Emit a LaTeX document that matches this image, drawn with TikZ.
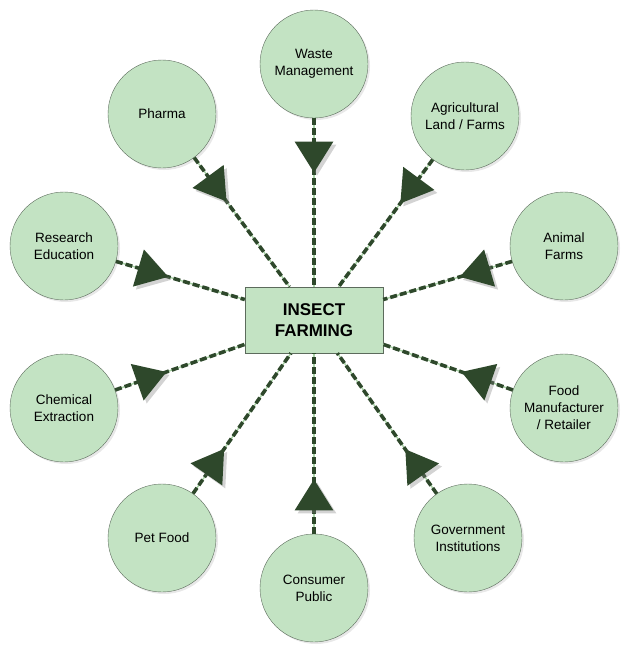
\documentclass[tikz,border=0pt]{standalone}
\usepackage{fontspec}
\setmainfont{Liberation Sans}
\usetikzlibrary{shapes.geometric,shadows,calc}

\definecolor{leaf}{HTML}{C3E3C3}
\definecolor{moss}{HTML}{2E482B}
\definecolor{rim}{HTML}{5C6B5C}
\definecolor{core}{HTML}{A9D3A6}

\tikzset{
  party/.style={circle, draw=rim, fill=leaf, minimum size=108pt, inner sep=0pt,
    align=center, font=\fontsize{13.5}{17}\selectfont,
    drop shadow={shadow xshift=2pt, shadow yshift=-2pt, opacity=0.18}},
  hub/.style={rectangle, draw=rim, fill=leaf, minimum width=138pt, minimum height=66pt,
    align=center, font=\fontsize{17}{21}\selectfont\bfseries},
  headtri/.style={isosceles triangle, isosceles triangle apex angle=64, fill=moss,
    shape border uses incircle, inner sep=0pt, minimum size=31pt,
    drop shadow={shadow xshift=3pt, shadow yshift=-3pt, opacity=0.35}},
}

\begin{document}
\begin{tikzpicture}[x=1pt, y=-1pt]

    \useasboundingbox (0, 0) rectangle (631, 657);

    \node[hub] (hub) at (314, 320) {INSECT\\FARMING};

    \node[party] (waste) at (314, 64) {Waste\\Management};
    \node[party] (agri) at (465, 116) {Agricultural\\Land / Farms};
    \node[party] (animal) at (564, 246) {Animal\\Farms};
    \node[party] (food) at (564, 408) {Food\\Manufacturer\\/ Retailer};
    \node[party] (gov) at (468, 538) {Government\\Institutions};
    \node[party] (public) at (314, 588) {Consumer\\Public};
    \node[party] (pet) at (162, 538) {Pet Food};
    \node[party] (chem) at (64, 408) {Chemical\\Extraction};
    \node[party] (research) at (64, 246) {Research\\Education};
    \node[party] (pharma) at (162, 114) {Pharma};

    % dashed links, heads point to the hub
    \foreach \c in {waste, agri, animal, food, gov, public, pet, chem, research, pharma} {
      \draw [core, line width=1.4pt] (\c) -- (hub);
      \draw [moss, line width=3.6pt, dash pattern=on 7pt off 3pt] (\c) -- (hub);
      \path let \p1 = ($(hub)-(\c)$), \n1 = {atan2(\y1,\x1)} in
        node[headtri, anchor=apex, shape border rotate=\n1] at ($(\c)!109pt!(hub)$) {};
    }

  \end{tikzpicture}
\end{document}
